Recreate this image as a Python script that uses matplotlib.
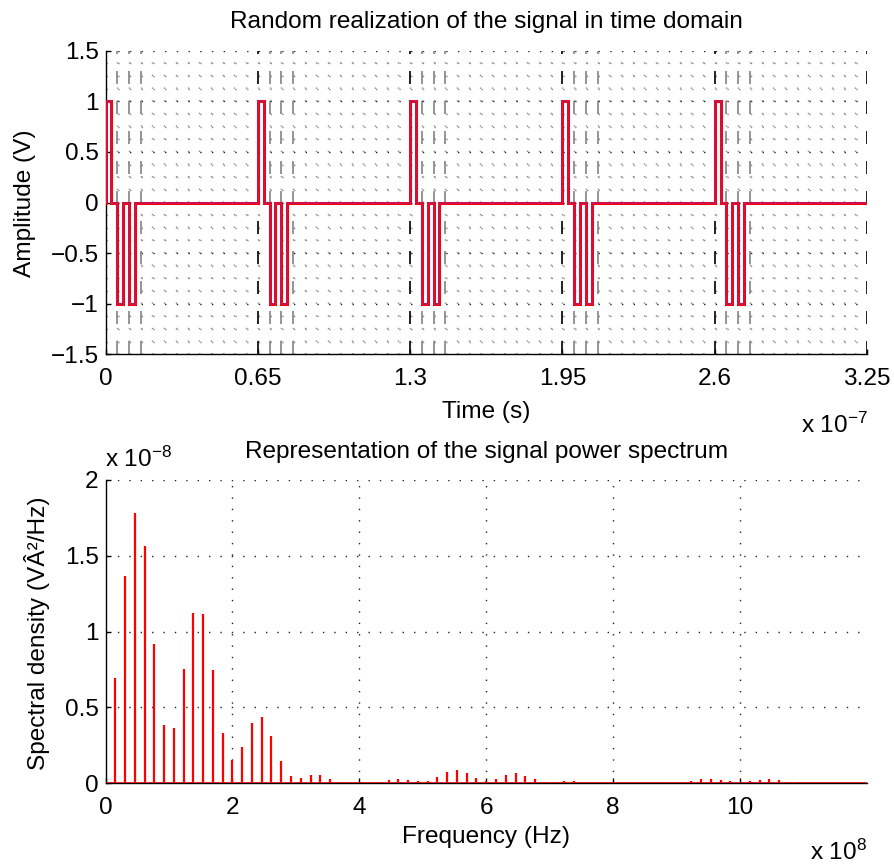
import numpy as np
import matplotlib
matplotlib.use('Agg')
import matplotlib.pyplot as plt

plt.rcParams['font.family'] = ['Liberation Sans', 'DejaVu Sans']
plt.rcParams['mathtext.fontset'] = 'custom'
plt.rcParams['mathtext.rm'] = 'Liberation Sans'
plt.rcParams['mathtext.it'] = 'Liberation Sans'
plt.rcParams['axes.unicode_minus'] = True
plt.rcParams['lines.scale_dashes'] = False

# ---------------- data ----------------
period = 65e-9          # s
slot = 5e-9             # s
n_periods = 5
symbols = [1, -1, -1, 0, 0, 0, 0, 0, 0, 0, 0, 0, 0]
duty = 0.5
marked_slots = [1, 2, 3]

time_ticks = [0, 0.65e-7, 1.3e-7, 1.95e-7, 2.6e-7, 3.25e-7]
time_ticklabels = ['0', '0.65', '1.3', '1.95', '2.6', '3.25']
amp_ticks = [-1.5, -1, -0.5, 0, 0.5, 1, 1.5]
amp_ticklabels = ['\u22121.5', '\u22121', '\u22120.5', '0', '0.5', '1', '1.5']
amp_minor_step = 0.125

f0 = 1 / period
harmonics = np.arange(1, 79)
psd_e8 = [0.697, 1.369, 1.780, 1.565, 0.919, 0.385, 0.363, 0.754, 1.121, 1.114,
          0.745, 0.330, 0.154, 0.242, 0.400, 0.435, 0.314, 0.147, 0.048, 0.035,
          0.053, 0.053, 0.031, 0.009, 0.002, 0.0, 0.002, 0.009, 0.020, 0.029,
          0.024, 0.015, 0.015, 0.042, 0.075, 0.088, 0.066, 0.033, 0.015, 0.031,
          0.053, 0.066, 0.048, 0.026, 0.009, 0.009, 0.015, 0.015, 0.009, 0.004,
          0.003, 0.0, 0.003, 0.004, 0.007, 0.009, 0.007, 0.004, 0.005, 0.013,
          0.026, 0.031, 0.024, 0.013, 0.0, 0.013, 0.022, 0.026, 0.020, 0.009,
          0.007, 0.005, 0.004, 0.004, 0.005, 0.004, 0.003, 0.002]
psd = np.array(psd_e8) * 1e-8
freq = harmonics * f0

freq_ticks = [0, 2e8, 4e8, 6e8, 8e8, 10e8]
freq_ticklabels = ['0', '2', '4', '6', '8', '10']
psd_ticks = [0, 0.5e-8, 1e-8, 1.5e-8, 2e-8]
psd_ticklabels = ['0', '0.5', '1', '1.5', '2']

# ---------------- figure ----------------
W, H = 894, 865
fig = plt.figure(figsize=(W / 100, H / 100), dpi=100)

def fx(px):
    return px / W

def fy(py):
    return 1 - py / H

FS = 17.6
L, R = 105.5, 867.0
AH = 303.6
ax1 = fig.add_axes([fx(L), fy(354.3), (R - L) / W, AH / H])
ax2 = fig.add_axes([fx(L), fy(783.3), (R - L) / W, 303.3 / H])

PT = 0.72  # points per pixel at dpi 100
t_end = n_periods * period
n_slots = int(round(t_end / slot))
n_rows = int(round(3.0 / amp_minor_step))
xstep_px = (R - L) / n_slots
ystep_px = AH / n_rows
dot = 1.0
vdots = (0, (dot, ystep_px * PT - dot))
hdots = (0, (dot, xstep_px * PT - dot))

# build waveform
t_pts, v_pts = [0.0], [0.0]
for p in range(n_periods):
    for k, s in enumerate(symbols):
        t0 = p * period + k * slot
        t1 = t0 + duty * slot
        if s != 0:
            t_pts += [t0, t0, t1, t1]
            v_pts += [0, s, s, 0]
t_pts.append(t_end)
v_pts.append(0.0)

# --- top axes ---
ax1.set_xlim(0, t_end)
ax1.set_ylim(-1.5, 1.5)
for k in range(1, n_slots):
    ax1.axvline(k * slot, color='#8a8a8a', lw=1.0, linestyle=vdots, zorder=1)
for j in range(n_rows + 1):
    yv = -1.5 + j * amp_minor_step
    major = abs(yv * 2 - round(yv * 2)) < 1e-9
    ax1.axhline(yv, color='#222222' if major else '#8a8a8a', lw=1.0,
                linestyle=hdots, zorder=1)

dash = (0, (13 * PT, 17 * PT))
for p in range(n_periods):
    for k in marked_slots:
        ax1.axvline(p * period + k * slot, color='#8c8c8c', lw=1.3,
                    linestyle=dash, zorder=2)
for p in range(1, n_periods + 1):
    ax1.axvline(p * period, color='#111111', lw=1.3, linestyle=dash, zorder=2)

ax1.plot(t_pts, v_pts, color='#ff0000', lw=2.2, zorder=4, solid_joinstyle='miter')
ax1.plot(t_pts, v_pts, color='#c0185a', lw=1.2, zorder=5, solid_joinstyle='miter')

ax1.set_xticks(time_ticks)
ax1.set_xticklabels(time_ticklabels)
ax1.set_yticks(amp_ticks)
ax1.set_yticklabels(amp_ticklabels)

# --- bottom axes ---
ax2.set_xlim(0, 1.2e9)
ax2.set_ylim(0, 2e-8)
gdots = (0, (1.0, 7.2))
for xv in freq_ticks[1:]:
    ax2.axvline(xv, color='#222222', lw=1.0, linestyle=gdots, zorder=1)
for yv in psd_ticks[1:]:
    ax2.axhline(yv, color='#222222', lw=1.0, linestyle=gdots, zorder=1)
ax2.vlines(freq, 0, psd, color='#ff0000', lw=1.6, zorder=4)
ax2.axhline(0, color='#e01010', lw=2.0, zorder=5)
ax2.set_xticks(freq_ticks)
ax2.set_xticklabels(freq_ticklabels)
ax2.set_yticks(psd_ticks)
ax2.set_yticklabels(psd_ticklabels)

for ax in (ax1, ax2):
    for side in ('top', 'right'):
        ax.spines[side].set_visible(False)
    for side in ('left', 'bottom'):
        ax.spines[side].set_linewidth(1.0)
        ax.spines[side].set_color('black')
    ax.tick_params(direction='in', length=3.5, width=1.0, labelsize=FS, colors='black')
    ax.tick_params(axis='y', pad=5)
    ax.tick_params(axis='x', pad=10)

# --- texts ---
cx = 0.5 * (L + R) / W
fig.text(cx, fy(28), 'Random realization of the signal in time domain',
         ha='center', va='baseline', fontsize=FS)
fig.text(cx, fy(418), 'Time (s)', ha='center', va='baseline', fontsize=FS)
fig.text(fx(868), fy(433), r'x 10$^{-7}$', ha='right', va='baseline', fontsize=FS)
fig.text(fx(25), fy(203), 'Amplitude (V)', ha='center', va='center', rotation=90, fontsize=FS)

fig.text(cx, fy(458), 'Representation of the signal power spectrum',
         ha='center', va='baseline', fontsize=FS)
fig.text(fx(105), fy(467), r'x 10$^{-8}$', ha='left', va='baseline', fontsize=FS)
fig.text(cx, fy(843), 'Frequency (Hz)', ha='center', va='baseline', fontsize=FS)
fig.text(fx(867), fy(860), r'x 10$^{8}$', ha='right', va='baseline', fontsize=FS)
fig.text(fx(37), fy(633), 'Spectral density (V\u00c2\u00b2/Hz)', ha='center', va='center',
         rotation=90, fontsize=FS)

fig.savefig('out.png', dpi=100)
